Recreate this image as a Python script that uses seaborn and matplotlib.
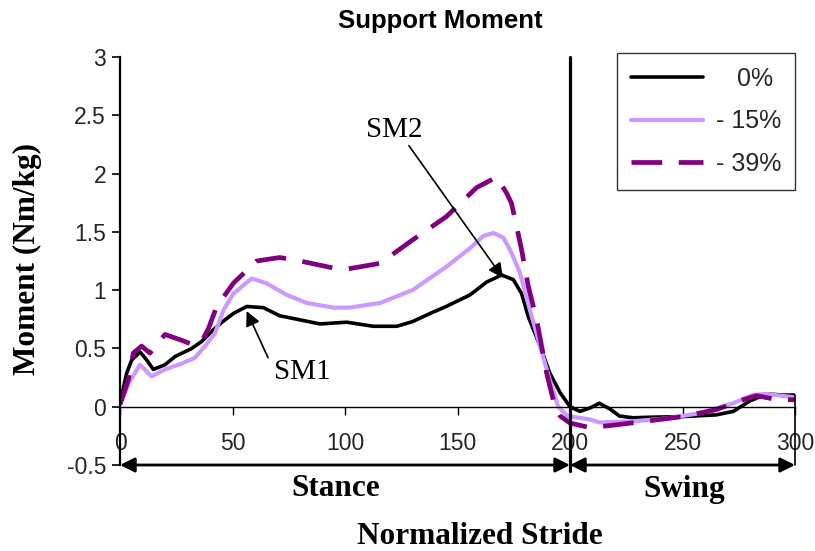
import matplotlib
matplotlib.use("Agg")
import matplotlib.pyplot as plt
import seaborn as sns
import pandas as pd

sns.set_theme(style="white")
plt.rcParams["font.family"] = ["Liberation Sans", "DejaVu Sans"]

# Support moment over the normalized stride (0-200 stance, 200-300 swing)
x_0 = [0, 3, 5.2, 8.9, 11.9, 14.8, 20, 24.4, 31.9, 36.3, 40.7, 45, 50.4, 56.3,
       63.7, 71, 80, 88.9, 100.7, 112.6, 123, 130, 137.8, 145, 155.6, 163,
       169.6, 174.8, 178.5, 181.5, 186.7, 191, 195.6, 200, 204.4, 209, 213,
       217.8, 222, 228, 235.6, 250, 265, 272.6, 280, 287.4, 294.8, 300]
y_0 = [0.03, 0.29, 0.40, 0.47, 0.40, 0.32, 0.36, 0.43, 0.50, 0.56, 0.645, 0.72,
       0.80, 0.86, 0.85, 0.78, 0.745, 0.71, 0.725, 0.69, 0.69, 0.73, 0.80, 0.86,
       0.96, 1.07, 1.13, 1.09, 0.97, 0.77, 0.52, 0.29, 0.12, 0.0, -0.04, -0.01,
       0.03, -0.02, -0.08, -0.095, -0.09, -0.085, -0.07, -0.04, 0.05, 0.11,
       0.10, 0.10]

x_15 = [0, 4.4, 8.9, 14, 20, 27.4, 33.3, 37.8, 42.2, 46, 50.4, 58.5, 65, 74, 83,
        94.8, 102, 115.6, 130, 145, 155.6, 161.5, 166, 170.4, 174, 177.8, 182.2,
        186.7, 191, 194.8, 198.9, 209, 213, 228, 243, 258, 272.6, 281, 287, 300]
y_15 = [0.02, 0.22, 0.36, 0.26, 0.32, 0.37, 0.42, 0.52, 0.63, 0.83, 0.97, 1.10,
        1.06, 0.96, 0.89, 0.85, 0.85, 0.89, 1.00, 1.20, 1.36, 1.465, 1.49, 1.45,
        1.32, 1.145, 0.83, 0.52, 0.23, 0.0, -0.08, -0.11, -0.135, -0.125, -0.10,
        -0.055, 0.03, 0.10, 0.11, 0.08]

x_39 = [0, 3.7, 5.9, 9.6, 13.3, 20, 27.4, 32.6, 36.3, 39.3, 43, 50.4, 60.7, 71,
        80, 94.8, 100.7, 115.6, 130, 145, 158.5, 167.4, 171.9, 174, 176.3, 178.5,
        181.5, 185.2, 189.6, 193.3, 195.6, 200, 209, 220.7, 235.6, 250, 265, 277,
        283, 292, 300]
y_39 = [0.02, 0.23, 0.46, 0.52, 0.46, 0.62, 0.57, 0.53, 0.56, 0.67, 0.86, 1.06,
        1.25, 1.28, 1.25, 1.19, 1.18, 1.23, 1.43, 1.63, 1.88, 1.97, 1.83, 1.745,
        1.545, 1.345, 1.03, 0.745, 0.29, 0.0, -0.08, -0.14, -0.18, -0.155, -0.12,
        -0.085, -0.025, 0.06, 0.095, 0.06, 0.06]

labels = ["   0%", "- 15%", "- 39%"]
colors = ["#000000", "#cc99ff", "#800080"]

x_ticks = [0, 50, 100, 150, 200, 250, 300]
y_ticks = [-0.5, 0, 0.5, 1, 1.5, 2, 2.5, 3]

df = pd.concat([
    pd.DataFrame({"stride": x_0, "moment": y_0, "load": labels[0]}),
    pd.DataFrame({"stride": x_15, "moment": y_15, "load": labels[1]}),
    pd.DataFrame({"stride": x_39, "moment": y_39, "load": labels[2]}),
])

fig = plt.figure(figsize=(8.15, 5.51), dpi=100)
ax = fig.add_axes([120 / 815, 1 - 465 / 551, 675 / 815, 408 / 551])

widths = [2.6, 3.0, 3.4]
for lab, col, lw in zip(labels, colors, widths):
    sub = df[df["load"] == lab]
    sns.lineplot(data=sub, x="stride", y="moment", color=col, lw=lw,
                 estimator=None, sort=False, ax=ax, label=lab,
                 linestyle=(0, (6.5, 3.5)) if lab == labels[2] else "-")

ax.set_xlim(0, 300)
ax.set_ylim(-0.5, 3)
ax.set_xticks(x_ticks)
ax.set_yticks(y_ticks)
ax.set_xticklabels([str(t) for t in x_ticks])
ax.set_yticklabels([f"{t:g}" for t in y_ticks])
ax.set_xlabel("")
ax.set_ylabel("")

for s in ["top", "right"]:
    ax.spines[s].set_visible(False)
ax.spines["bottom"].set_position(("data", 0))
ax.spines["left"].set_linewidth(1.6)
ax.spines["bottom"].set_linewidth(1.0)
for s in ["left", "bottom"]:
    ax.spines[s].set_color("black")
ax.tick_params(axis="y", direction="out", length=6, width=1.2, color="black",
               labelsize=16.5, pad=4, left=True)
ax.tick_params(axis="x", direction="out", length=6, width=1.0, color="black",
               labelsize=16.5, pad=12, bottom=True)

# stance / swing divider and bracket arrows
ax.plot([200, 200], [-0.55, 3], color="black", lw=2.3, clip_on=False)
ax.plot([300, 300], [-0.5, 0.1], color="black", lw=1.2, clip_on=False)
arrow = dict(arrowstyle="<|-|>", mutation_scale=22, lw=2.0, color="black",
             shrinkA=0, shrinkB=0)
ax.annotate("", xy=(0, -0.5), xytext=(200, -0.5), arrowprops=arrow,
            annotation_clip=False)
ax.annotate("", xy=(200, -0.5), xytext=(300, -0.5), arrowprops=arrow,
            annotation_clip=False)

# peak annotations
pointer = dict(arrowstyle="-|>", mutation_scale=22, lw=1.2, color="black",
               shrinkA=0, shrinkB=0)
ax.annotate("", xy=(56.3, 0.82), xytext=(65.8, 0.42), arrowprops=pointer)
ax.text(81, 0.30, "SM1", fontsize=21, family="Liberation Serif",
        ha="center", va="center", color="black")
ax.annotate("", xy=(170.2, 1.105), xytext=(128.4, 2.24), arrowprops=pointer)
ax.text(122, 2.37, "SM2", fontsize=21, family="Liberation Serif",
        ha="center", va="center", color="black")

leg = ax.legend(loc="upper right", bbox_to_anchor=(1.0, 1.01), fontsize=18,
                frameon=True, fancybox=False, edgecolor="black",
                handlelength=2.9, handletextpad=0.5, labelspacing=0.75,
                borderpad=0.55, borderaxespad=0)
leg.get_frame().set_linewidth(1.0)

fig.text(440 / 815, 1 - 21 / 551, "Support Moment", fontsize=18.5,
         fontweight="bold", ha="center", va="center", color="black")
fig.text(27 / 815, 1 - 259 / 551, "Moment (Nm/kg)", fontsize=22.5,
         family="Liberation Serif", fontweight="bold", rotation=90,
         ha="center", va="center", color="black")
fig.text(336 / 815, 1 - 489 / 551, "Stance", fontsize=22.5,
         family="Liberation Serif", fontweight="bold", ha="center",
         va="center", color="black")
fig.text(684 / 815, 1 - 489 / 551, "Swing", fontsize=22.5,
         family="Liberation Serif", fontweight="bold", ha="center",
         va="center", color="black")
fig.text(480 / 815, 1 - 537 / 551, "Normalized Stride", fontsize=22.5,
         family="Liberation Serif", fontweight="bold", ha="center",
         va="center", color="black")

fig.savefig("out.png", dpi=100, facecolor="white")
